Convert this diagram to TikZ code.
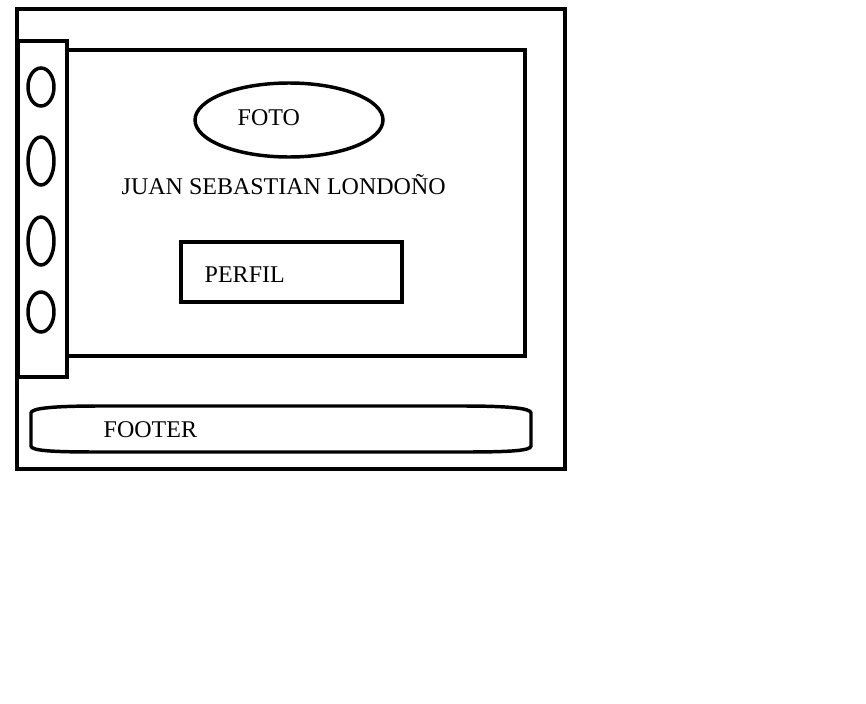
\documentclass[tikz,border=0pt]{standalone}
\usepackage{fontspec}
\setmainfont{Liberation Serif}
\usetikzlibrary{shapes.geometric}

\begin{document}
\begin{tikzpicture}[x=0.75pt, y=-0.75pt, line width=2.6pt,
    font=\fontsize{18}{20}\selectfont,
    caption/.style={inner sep=0pt, anchor=base west},
    panelbox/.style={draw, rectangle, inner sep=0pt},
    photo/.style={draw, ellipse, inner sep=0pt}]
    \useasboundingbox (0,0) rectangle (866,703);

    % Outer frame and main panel
    \draw (17,9) rectangle (565,469);
    \draw (67,50) rectangle (525,356);

    % Sidebar with menu buttons
    \draw[fill=white] (18,41) rectangle (67,377);
    \foreach \y/\ry in {87/19, 161/24, 241/24, 312/20}{
        \draw (41,\y) ellipse [x radius=13, y radius=\ry];
    }

    % Photo
    \node[photo, minimum width=141pt, minimum height=55.5pt] (foto) at (289,120) {};
    \node[caption] (fototext) at (236,125) {FOTO};

    % Name
    \node[caption] (nombre) at (120,194) {JUAN SEBASTIAN LONDOÑO};

    % Profile box
    \node[panelbox, minimum width=165.75pt, minimum height=45pt] (perfil) at (291.5,272) {};
    \node[caption] (perfiltext) at (203,282) {PERFIL};

    % Footer bar
    \draw (31,413) .. controls (31,408) and (55,406) .. (100,406) -- (462,406)
        .. controls (507,406) and (531,408) .. (531,413) -- (531,446)
        .. controls (531,451) and (507,452) .. (462,452) -- (100,452)
        .. controls (55,452) and (31,451) .. (31,446) -- cycle;
    \node[caption] (footer) at (102,437) {FOOTER};
\end{tikzpicture}
\end{document}
